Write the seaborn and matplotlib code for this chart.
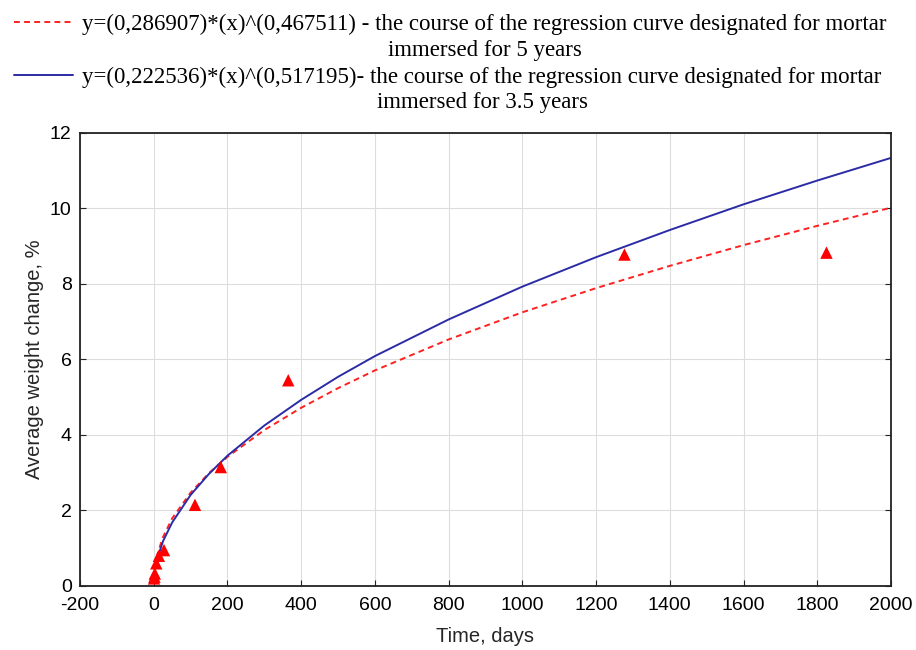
# -*- coding: utf-8 -*-

import matplotlib
matplotlib.use("Agg")
import matplotlib.pyplot as plt
import seaborn as sns
import numpy as np

# measured points (time in days, average weight change in %)
days = [1, 2, 3, 7, 14, 28, 112, 182, 365, 1277, 1825]
weight = [0.2, 0.25, 0.33, 0.6, 0.8, 0.95, 2.15, 3.15, 5.45, 8.78, 8.83]

# regression curves
curve_x = [8, 10, 25, 50, 100, 150, 200, 300, 400, 500, 600, 800, 1000,
           1200, 1400, 1600, 1800, 2000]
curve_5y = [0.76, 0.84, 1.29, 1.79, 2.47, 2.99, 3.42, 4.13, 4.72, 5.24,
            5.71, 6.53, 7.25, 7.89, 8.48, 9.03, 9.54, 10.02]
curve_35y = [0.65, 0.73, 1.18, 1.68, 2.41, 2.97, 3.45, 4.25, 4.93, 5.54,
             6.09, 7.06, 7.93, 8.71, 9.43, 10.11, 10.74, 11.34]

label_5y = ("y=(0,286907)*(x)^(0,467511) - the course of the regression curve designated for mortar\n"
            "immersed for 5 years")
label_35y = ("y=(0,222536)*(x)^(0,517195)- the course of the regression curve designated for mortar\n"
             "immersed for 3.5 years")

sns.set_style("whitegrid", {"grid.color": "#dddddd", "axes.edgecolor": "#222222"})
plt.rcParams['font.family'] = ['Liberation Sans', 'DejaVu Sans']
plt.rcParams['axes.unicode_minus'] = False

fig = plt.figure(figsize=(9.16, 6.5), dpi=100)
ax = fig.add_axes([0.0873, 0.0985, 0.8854, 0.6969])

sns.lineplot(x=curve_x, y=curve_5y, ax=ax, color='#ff2020', linestyle=(0, (3, 2.2)),
             linewidth=1.4, label=label_5y)
sns.lineplot(x=curve_x, y=curve_35y, ax=ax, color='#2b2ba6', linewidth=1.4,
             label=label_35y)
sns.scatterplot(x=days, y=weight, ax=ax, marker='^', color='#ff0000', s=80,
                edgecolor='none', zorder=5)

ax.set_xlim(-200, 2000)
ax.set_ylim(0, 12)
ax.set_xticks(np.arange(-200, 2001, 200))
ax.set_yticks(np.arange(0, 13, 2))
ax.tick_params(direction='in', length=4, labelsize=14, colors='#222222',
               top=False, right=True, left=True, bottom=True)
ax.tick_params(axis='x', pad=8)
ax.tick_params(axis='y', pad=6)
ax.tick_params(labelcolor='black')
for s in ax.spines.values():
    s.set_linewidth(1.3)
    s.set_color('#222222')

ax.set_xlabel('Time, days', fontsize=14.5, labelpad=9)
ax.set_ylabel('Average weight change, %', fontsize=14.5, labelpad=4)

handles, labels = ax.get_legend_handles_labels()
ax.legend_.remove()
leg = fig.legend(handles, labels, loc='upper left', bbox_to_anchor=(0.0, 1.0),
                 frameon=False, handlelength=2.6, handletextpad=0.4,
                 labelspacing=0.25, borderaxespad=0.2,
                 prop={'family': 'Liberation Serif', 'size': 16.5})
for t in leg.get_texts():
    t.set_multialignment('center')
    t.set_linespacing(1.3)
    t.set_color('black')
# put the legend lines level with the first text line, as in the original
for ln in leg.get_lines():
    ln.set_ydata(np.asarray(ln.get_ydata()) + 11)

fig.savefig('out.png', dpi=100)
